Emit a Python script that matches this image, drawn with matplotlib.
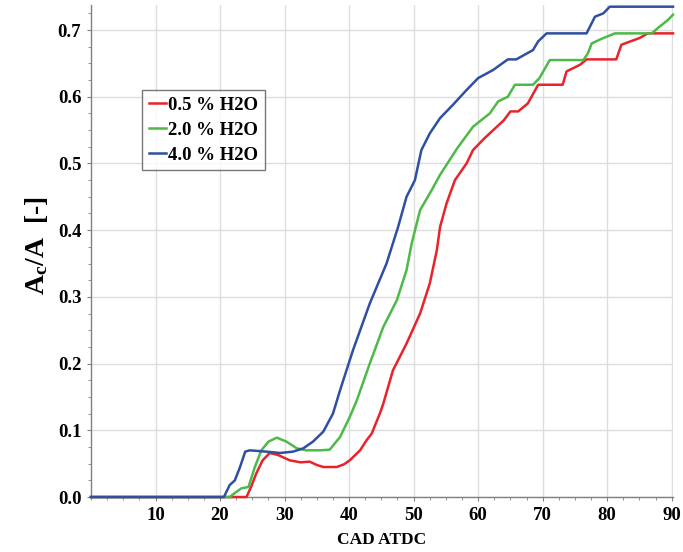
import numpy as np
import matplotlib
matplotlib.use("Agg")
import matplotlib.pyplot as plt

# data (CAD ATDC vs Ac/A)
red_x = [0, 24.1, 24.8, 25.6, 26.6, 27.7, 29.0, 30.8, 32.5, 33.9, 35.0, 36.0, 38.1, 39.2,
         40.1, 41.7, 42.7, 43.5, 44.8, 45.3, 46.8, 48.9, 51.0, 52.5, 53.6, 54.1, 55.1,
         56.4, 58.2, 59.2, 61.0, 62.9, 64.0, 65.0, 66.2, 67.7, 69.3, 73.1, 73.7, 75.8,
         76.8, 81.4, 82.2, 85.0, 86.3, 90.2]
red_y = [0, 0, 0.015, 0.035, 0.055, 0.066, 0.063, 0.055, 0.052, 0.053, 0.048, 0.045, 0.045, 0.049,
         0.055, 0.07, 0.085, 0.095, 0.126, 0.14, 0.19, 0.23, 0.275, 0.32, 0.37, 0.405, 0.44,
         0.475, 0.5, 0.52, 0.538, 0.555, 0.565, 0.578, 0.578, 0.59, 0.618, 0.618, 0.638, 0.648,
         0.656, 0.656, 0.678, 0.688, 0.695, 0.695]

green_x = [0, 21.5, 22.3, 23.3, 24.4, 25.4, 26.4, 27.5, 28.8, 30.3, 31.9, 33.4, 35.5, 37.0,
           38.6, 40.1, 41.2, 43.2, 45.3, 47.4, 48.9, 49.7, 51.0, 52.8, 54.1, 56.7, 59.2,
           61.8, 63.1, 64.6, 65.7, 68.5, 69.5, 71.1, 76.3, 77.0, 77.6, 79.4, 81.2, 86.9,
           88.1, 89.4, 90.2]
green_y = [0, 0, 0.006, 0.013, 0.015, 0.045, 0.07, 0.083, 0.089, 0.083, 0.073, 0.07, 0.07, 0.071,
           0.09, 0.12, 0.145, 0.2, 0.255, 0.295, 0.34, 0.38, 0.43, 0.46, 0.483, 0.522, 0.555,
           0.575, 0.593, 0.6, 0.618, 0.618, 0.628, 0.655, 0.655, 0.665, 0.68, 0.688, 0.695, 0.695,
           0.705, 0.715, 0.723]

blue_x = [0, 20.6, 21.5, 22.3, 23.1, 23.9, 24.6, 27.2, 29.3, 31.3, 32.9, 34.4, 36.0, 37.5,
          38.6, 40.6, 43.2, 45.8, 47.6, 48.9, 50.2, 51.2, 52.5, 54.1, 56.1, 58.0, 60.0,
          62.3, 64.6, 65.9, 68.5, 69.3, 70.6, 76.8, 78.1, 79.4, 80.4, 90.2]
blue_y = [0, 0, 0.018, 0.025, 0.045, 0.068, 0.07, 0.068, 0.066, 0.068, 0.073, 0.083, 0.098, 0.125,
          0.16, 0.22, 0.29, 0.35, 0.405, 0.45, 0.475, 0.52, 0.545, 0.568, 0.588, 0.608, 0.628,
          0.64, 0.656, 0.656, 0.67, 0.683, 0.695, 0.695, 0.72, 0.725, 0.735, 0.735]

labels = ["0.5 % H2O", "2.0 % H2O", "4.0 % H2O"]
x_ticks = [10, 20, 30, 40, 50, 60, 70, 80, 90]
y_ticks = [0.0, 0.1, 0.2, 0.3, 0.4, 0.5, 0.6, 0.7]

plt.rcParams["font.family"] = ["Liberation Serif", "DejaVu Serif"]
plt.rcParams["font.weight"] = "bold"
plt.rcParams["mathtext.fontset"] = "custom"
plt.rcParams["mathtext.rm"] = "Liberation Serif:bold"
plt.rcParams["mathtext.it"] = "Liberation Serif:bold"
plt.rcParams["mathtext.bf"] = "Liberation Serif:bold"

fig = plt.figure(figsize=(6.83, 5.52), dpi=100)
ax = fig.add_axes([0.1332, 0.0996, 0.8522, 0.8919])

colors = ["#e8232b", "#4dba48", "#2f4fa2"]
for xs, ys, c, lab in zip([red_x, green_x, blue_x], [red_y, green_y, blue_y], colors, labels):
    ax.plot(xs, ys, color=c, lw=1.8, label=lab, clip_on=False, zorder=3)

ax.set_xlim(0, 90.2)
ax.set_ylim(0, 0.738)
ax.set_xticks(x_ticks)
ax.set_yticks(y_ticks)
ax.set_xticklabels([str(t) for t in x_ticks])
ax.set_yticklabels([f"{t:.1f}" for t in y_ticks])
ax.set_xticks(np.arange(0, 90.1, 2.5), minor=True)
ax.set_yticks(np.arange(0, 0.74, 0.025), minor=True)

ax.grid(True, which="major", color="#dddddd", lw=1.0, zorder=0)
for s in ["top", "right"]:
    ax.spines[s].set_visible(False)
for s in ["left", "bottom"]:
    ax.spines[s].set_color("#808080")
    ax.spines[s].set_linewidth(1.0)

ax.tick_params(axis="both", which="major", labelsize=13.5, length=3, color="#808080", pad=4)
ax.tick_params(axis="both", which="minor", length=2, color="#808080")

ax.set_xlabel("CAD ATDC", fontsize=12.5, fontweight="bold", labelpad=6)
ax.set_ylabel(r"A$_\mathrm{c}$/A  [-]", fontsize=20, fontweight="bold")
ax.yaxis.set_label_coords(-0.07, 0.51)

leg = ax.legend(loc="upper left", bbox_to_anchor=(0.088, 0.827), borderaxespad=0,
                fontsize=13.5, frameon=True, fancybox=False, handlelength=0.9,
                handletextpad=0.15, labelspacing=0.42, borderpad=0.35)
leg.get_frame().set_edgecolor("#555555")
leg.get_frame().set_linewidth(1.0)

fig.savefig("out.png", dpi=100)
